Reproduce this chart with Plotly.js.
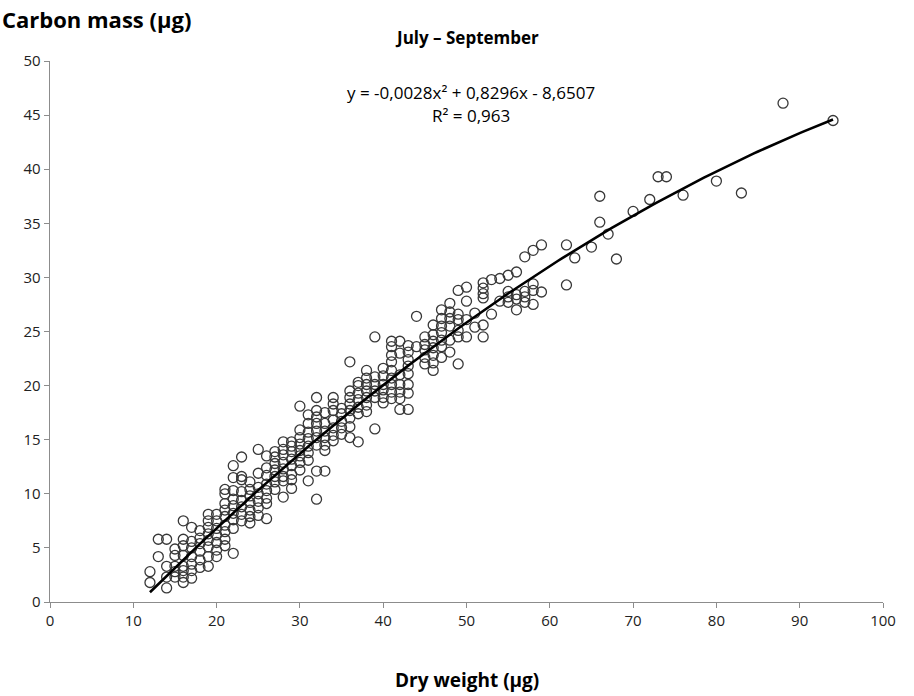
<!DOCTYPE html>
<html>
<head>
<meta charset="utf-8">
<script src="https://cdn.plot.ly/plotly-3.0.1.min.js"></script>
<style>html,body{margin:0;padding:0;background:#fff}#chart{width:914px;height:696px}</style>
</head>
<body>
<div id="chart"></div>
<script>
// Dry weight (µg) columns and the carbon mass (µg) values read in each column
const dryWeightCols = [12,13,14,15,16,17,18,19,20,21,22,23,24,25,26,27,28,29,30,31,32,33,34,35,36,37,38,39,40,41,42,43,44,45,46,47,48,49,50,51,52,53,54,55,56,57,58,59,62,63,65,66,67,68,70,72,73,74,76,80,83,88,94];
const carbonMassCols = [
  [2.8,1.8],
  [5.8,4.2],
  [5.8,3.3,2.3,1.3],
  [4.9,4.3,3.3,2.8,2.3],
  [7.5,5.8,5.2,4.3,3.3,2.9,2.3,1.8],
  [6.9,5.6,5.0,4.2,3.5,2.9,2.2],
  [6.6,5.9,5.4,4.7,3.9,3.2],
  [8.1,7.5,6.9,6.3,5.7,5.1,4.2,3.3],
  [8.1,7.5,6.8,6.2,5.5,4.8,4.2],
  [10.4,10.0,9.1,8.5,7.9,7.1,6.5,5.8,5.2],
  [12.6,11.5,10.3,9.5,8.9,8.2,7.6,6.8,4.5],
  [13.4,11.6,11.3,10.2,9.4,8.8,8.1,7.5],
  [11.1,10.4,9.8,9.2,8.5,7.9,7.3],
  [14.1,11.9,10.6,10.0,9.3,8.7,8.0],
  [13.5,12.4,11.7,10.9,10.3,9.6,9.1,7.7],
  [13.9,13.4,12.8,12.2,11.6,11.1,10.4],
  [14.8,14.1,13.6,12.9,12.3,11.6,11.2,9.7],
  [14.8,14.4,13.9,13.2,12.6,11.8,11.3,10.5],
  [18.1,15.9,15.2,14.6,14.0,13.5,12.9,12.2],
  [17.3,16.5,15.7,15.1,14.4,13.8,13.1,11.2],
  [18.9,17.7,17.1,16.5,15.8,15.2,14.5,12.1,9.5],
  [17.5,16.5,15.8,15.2,14.5,14.0,12.1],
  [18.9,18.3,17.7,16.8,16.1,15.4,14.9],
  [17.9,17.4,16.7,16.1,15.5],
  [22.2,19.5,18.9,18.3,17.7,17.0,16.2,15.2],
  [20.3,20.0,19.3,18.7,18.0,17.4,14.8],
  [21.4,20.7,20.1,19.5,18.9,18.2,17.6],
  [24.5,20.8,20.1,19.5,18.9,16.0],
  [21.6,20.9,20.1,19.6,18.9,18.4],
  [24.1,23.6,22.8,22.2,21.4,20.7,20.1,19.4,18.8],
  [24.1,23.0,21.0,20.1,19.4,18.8,17.8],
  [23.7,23.1,22.4,21.8,21.1,20.1,19.3,17.8],
  [26.4,23.6],
  [24.5,23.8,23.3,22.6,22.0],
  [25.6,24.7,24.1,23.5,22.8,22.1,21.4],
  [27.0,26.2,25.5,24.9,24.2,23.6,22.6],
  [27.6,26.8,26.2,25.5,24.2,23.1],
  [28.8,26.6,26.1,25.1,24.5,22.0],
  [29.1,27.8,26.1,24.5],
  [26.7,25.4],
  [29.5,29.0,28.5,28.1,25.6,24.5],
  [29.8,26.6],
  [29.9,27.8],
  [30.2,28.7,28.2,27.7],
  [30.5,28.4,28.0,27.0],
  [31.9,28.7,28.2,27.7],
  [32.5,29.4,28.8,27.5],
  [33.0,28.65],
  [33.0,29.3],
  [31.8],
  [32.8],
  [37.5,35.1],
  [34.0],
  [31.7],
  [36.1],
  [37.2],
  [39.3],
  [39.3],
  [37.6],
  [38.9],
  [37.8],
  [46.1],
  [44.5]
];
// Trendline coefficients as printed on the chart
const trendA = -0.0028, trendB = 0.8296, trendC = -8.6507;
const trendRange = [12, 94];
const xTicks = [0,10,20,30,40,50,60,70,80,90,100];
const yTicks = [0,5,10,15,20,25,30,35,40,45,50];

const xs = [], ys = [];
dryWeightCols.forEach((x, i) => carbonMassCols[i].forEach(y => { xs.push(x); ys.push(y); }));

const tx = [], ty = [];
for (let x = trendRange[0]; x <= trendRange[1] + 1e-9; x += 0.5) {
  tx.push(x); ty.push(trendA * x * x + trendB * x + trendC);
}

const font = "'Open Sans', Lato, sans-serif";
const axisCol = '#8c8c8c';

const data = [
  {x: xs, y: ys, type: 'scatter', mode: 'markers', hoverinfo: 'x+y',
   marker: {symbol: 'circle-open', size: 10, color: '#383838', line: {width: 1.3, color: '#383838'}}},
  {x: tx, y: ty, type: 'scatter', mode: 'lines', line: {color: '#000', width: 2.6}, hoverinfo: 'skip'}
];

const layout = {
  width: 914, height: 696,
  margin: {l: 50, r: 31, t: 61, b: 94},
  paper_bgcolor: '#fff', plot_bgcolor: '#fff',
  showlegend: false,
  font: {family: font, size: 15, color: '#000'},
  xaxis: {range: [0, 100], tickvals: xTicks, showgrid: false, zeroline: false,
          showline: true, linecolor: axisCol, linewidth: 1.3, ticks: 'outside', ticklen: 5,
          tickcolor: axisCol, tickfont: {family: font, size: 15, color: '#222'}, fixedrange: true},
  yaxis: {range: [0, 50], tickvals: yTicks, showgrid: false, zeroline: false,
          showline: true, linecolor: axisCol, linewidth: 1.3, ticks: 'outside', ticklen: 5,
          tickcolor: axisCol, tickfont: {family: font, size: 15, color: '#222'}, fixedrange: true},
  annotations: [
    {text: '<b>Carbon mass (µg)</b>', xref: 'paper', yref: 'paper', x: -0.06, y: 1.078,
     xanchor: 'left', yanchor: 'middle', showarrow: false, font: {family: font, size: 22, color: '#000'}},
    {text: '<b>July – September</b>', xref: 'paper', yref: 'paper', x: 0.5, y: 1.043,
     xanchor: 'center', yanchor: 'middle', showarrow: false, font: {family: font, size: 17, color: '#000'}},
    {text: 'y = -0,0028x² + 0,8296x - 8,6507', xref: 'paper', yref: 'paper', x: 0.505, y: 0.941,
     xanchor: 'center', yanchor: 'middle', showarrow: false, font: {family: font, size: 17, color: '#000'}},
    {text: 'R² = 0,963', xref: 'paper', yref: 'paper', x: 0.505, y: 0.899,
     xanchor: 'center', yanchor: 'middle', showarrow: false, font: {family: font, size: 17, color: '#000'}},
    {text: '<b>Dry weight (µg)</b>', xref: 'paper', yref: 'paper', x: 0.5, y: -0.144,
     xanchor: 'center', yanchor: 'middle', showarrow: false, font: {family: font, size: 19, color: '#000'}}
  ]
};

Plotly.newPlot('chart', data, layout, {displayModeBar: false, staticPlot: true});
</script>
</body>
</html>
